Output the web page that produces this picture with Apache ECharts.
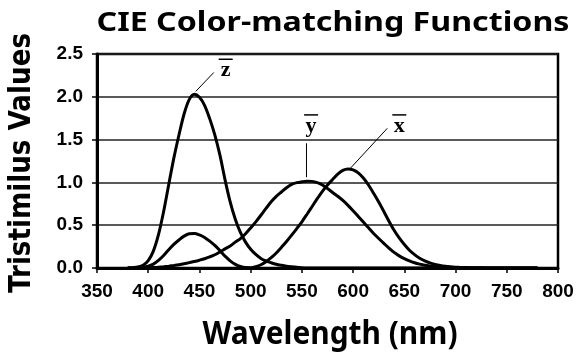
<!DOCTYPE html>
<html>
<head>
<meta charset="utf-8">
<script src="https://cdn.jsdelivr.net/npm/echarts@6/dist/echarts.min.js"></script>
<style>
  html, body { margin: 0; padding: 0; background: #fff; }
  #main { width: 577px; height: 354px; }
</style>
</head>
<body>
<div id="main"></div>
<script>
// wavelength (nm), 5 nm steps
var wavelengths = [380, 385, 390, 395, 400, 405, 410, 415, 420, 425, 430, 435, 440, 445, 450, 455,
    460, 465, 470, 475, 480, 485, 490, 495, 500, 505, 510, 515, 520, 525, 530, 535, 540, 545,
    550, 555, 560, 565, 570, 575, 580, 585, 590, 595, 600, 605, 610, 615, 620, 625, 630, 635,
    640, 645, 650, 655, 660, 665, 670, 675, 680, 685, 690, 695, 700, 705, 710, 715, 720, 725,
    730, 735, 740, 745, 750, 755, 760, 765, 770, 775, 780];
var xBar = [0.000, 0.001, 0.002, 0.007, 0.020, 0.045, 0.088, 0.146, 0.213, 0.275,
    0.327, 0.372, 0.399, 0.402, 0.386, 0.357, 0.314, 0.264, 0.203, 0.138,
    0.084, 0.043, 0.017, 0.005, 0.004, 0.016, 0.038, 0.073, 0.120, 0.176,
    0.241, 0.310, 0.384, 0.461, 0.540, 0.628, 0.719, 0.810, 0.896, 0.970,
    1.034, 1.096, 1.141, 1.157, 1.146, 1.111, 1.051, 0.970, 0.873, 0.770,
    0.660, 0.546, 0.440, 0.351, 0.274, 0.208, 0.156, 0.114, 0.083, 0.059,
    0.042, 0.029, 0.020, 0.014, 0.010,
    0.007, 0.005, 0.003, 0.002, 0.002, 0.001, 0.001, 0.001, 0.000, 0.000,
    0.000, 0.000, 0.000, 0.000, 0.000, 0.000];
var yBar = [0.000, 0.000, 0.000, 0.001, 0.002, 0.005, 0.009, 0.015, 0.022, 0.030,
    0.039, 0.050, 0.063, 0.076, 0.091, 0.108, 0.130, 0.155, 0.188, 0.223,
    0.257, 0.302, 0.344, 0.401, 0.468, 0.539, 0.616, 0.696, 0.773, 0.836,
    0.888, 0.938, 0.976, 0.997, 1.007, 1.014, 1.012, 0.997, 0.970, 0.929,
    0.882, 0.838, 0.789, 0.731, 0.668, 0.603, 0.536, 0.469, 0.404, 0.345,
    0.288, 0.232, 0.182, 0.142, 0.109, 0.082, 0.061, 0.045, 0.032, 0.023,
    0.016, 0.011, 0.008, 0.005, 0.004,
    0.003, 0.002, 0.001, 0.001, 0.001, 0.000, 0.000, 0.000, 0.000, 0.000,
    0.000, 0.000, 0.000, 0.000, 0.000, 0.000];
var zBar = [0.001, 0.003, 0.011, 0.032, 0.086, 0.197, 0.389, 0.657, 0.973, 1.283,
    1.554, 1.799, 1.967, 2.030, 1.995, 1.901, 1.745, 1.555, 1.318, 1.030,
    0.772, 0.570, 0.415, 0.302, 0.219, 0.159, 0.112, 0.082, 0.061, 0.043,
    0.031, 0.021, 0.014, 0.008, 0.004, 0.001, 0.000, 0.000, 0.000, 0.000,
    0.000, 0.000, 0.000, 0.000, 0.000, 0.000, 0.000, 0.000, 0.000, 0.000,
    0.000, 0.000, 0.000, 0.000, 0.000, 0.000, 0.000, 0.000, 0.000, 0.000,
    0.000, 0.000, 0.000, 0.000, 0.000,
    0.000, 0.000, 0.000, 0.000, 0.000, 0.000, 0.000, 0.000, 0.000, 0.000,
    0.000, 0.000, 0.000, 0.000, 0.000, 0.000];
var xTicks = [350, 800, 50];
var yTicks = [0, 2.5, 0.5];

// curve labels: letter, label point, leader line start, leader line end (data coords)
var curveLabels = [
    { letter: 'z', at: [475.6, 2.31], from: [464.0, 2.284], to: [446.4, 2.063] },
    { letter: 'y', at: [559.0, 1.66], from: [554.5, 1.457], to: [554.5, 1.061] },
    { letter: 'x', at: [645.1, 1.66], from: [633.4, 1.632], to: [597.4, 1.166] }
];

function pairs(ys) {
    var out = [];
    for (var i = 0; i < wavelengths.length; i++) out.push([wavelengths[i], ys[i]]);
    return out;
}

function curve(name, ys) {
    return {
        name: name,
        type: 'line',
        data: pairs(ys),
        smooth: 0.3,
        symbol: 'none',
        lineStyle: { color: '#000', width: 3 },
        z: 5
    };
}

var measure = document.createElement('canvas').getContext('2d');
function fit(text, font, width) {
    measure.font = font;
    return width / measure.measureText(text).width;
}

var chart = echarts.init(document.getElementById('main'), null, { renderer: 'canvas' });

option = {
    animation: false,
    grid: {
        left: 97, right: 19, top: 54, bottom: 86,
        show: true,
        borderColor: '#000',
        borderWidth: 2.5
    },
    xAxis: {
        type: 'value',
        min: xTicks[0], max: xTicks[1], interval: xTicks[2],
        axisLine: { lineStyle: { color: '#000', width: 3 } },
        axisTick: { inside: false, length: 5, lineStyle: { color: '#000', width: 1.5 } },
        splitLine: { show: false },
        axisLabel: {
            margin: 14,
            color: '#000',
            fontFamily: 'Liberation Sans',
            fontWeight: 'bold',
            fontSize: 19
        }
    },
    yAxis: {
        type: 'value',
        min: yTicks[0], max: yTicks[1], interval: yTicks[2],
        axisLine: { show: true, lineStyle: { color: '#000', width: 3 } },
        axisTick: { show: true, inside: false, length: 5, lineStyle: { color: '#000', width: 1.5 } },
        splitLine: { lineStyle: { color: '#222', width: 1.5 } },
        axisLabel: {
            margin: 14,
            color: '#000',
            fontFamily: 'Liberation Sans',
            fontWeight: 'bold',
            fontSize: 19,
            formatter: function (v) { return v.toFixed(1); }
        }
    },
    series: [curve('x', xBar), curve('y', yBar), curve('z', zBar)]
};
chart.setOption(option);

// titles and curve labels
var titleFont = 'bold 26px "Noto Sans"';
var xNameFont = 'bold 32px "Noto Sans"';
var yNameFont = 'bold 31px "DejaVu Sans"';
var labelFont = 'bold 22px "Liberation Serif"';

var elements = [
    {
        type: 'text', x: 333, y: 24, scaleX: fit('CIE Color-matching Functions', titleFont, 473),
        style: { text: 'CIE Color-matching Functions', font: titleFont, fill: '#000', align: 'center', verticalAlign: 'middle' }
    },
    {
        type: 'text', x: 330, y: 335, scaleX: fit('Wavelength (nm)', xNameFont, 255),
        style: { text: 'Wavelength (nm)', font: xNameFont, fill: '#000', align: 'center', verticalAlign: 'middle' }
    },
    {
        type: 'text', x: 22, y: 163, rotation: Math.PI / 2, scaleX: fit('Tristimilus Values', yNameFont, 260),
        style: { text: 'Tristimilus Values', font: yNameFont, fill: '#000', align: 'center', verticalAlign: 'middle' }
    }
];

curveLabels.forEach(function (c) {
    var p = chart.convertToPixel({ gridIndex: 0 }, c.at);
    var a = chart.convertToPixel({ gridIndex: 0 }, c.from);
    var b = chart.convertToPixel({ gridIndex: 0 }, c.to);
    elements.push({
        type: 'text', x: p[0], y: p[1],
        style: { text: c.letter, font: labelFont, fill: '#000', align: 'center', verticalAlign: 'middle' }
    });
    elements.push({
        type: 'line', shape: { x1: p[0] - 7, y1: p[1] - 11, x2: p[0] + 7, y2: p[1] - 11 },
        style: { stroke: '#000', lineWidth: 1.5 }
    });
    elements.push({
        type: 'line', shape: { x1: a[0], y1: a[1], x2: b[0], y2: b[1] },
        style: { stroke: '#000', lineWidth: 1 }
    });
});

chart.setOption({ graphic: elements });
</script>
</body>
</html>
